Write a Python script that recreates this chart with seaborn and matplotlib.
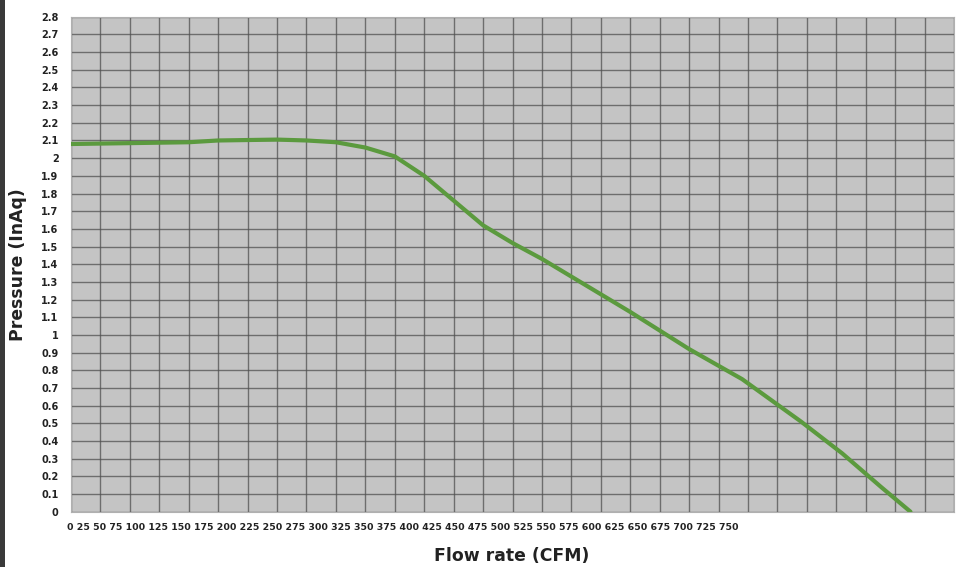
import matplotlib
matplotlib.use("Agg")
import matplotlib.pyplot as plt
import seaborn as sns
import pandas as pd
from matplotlib.patches import Rectangle

# fan curve
flow_cfm = [0, 50, 100, 125, 175, 200, 225, 250, 275, 300, 325, 350, 375,
            400, 425, 475, 525, 570, 620, 655, 688, 713]
pressure_inaq = [2.08, 2.085, 2.09, 2.10, 2.105, 2.10, 2.09, 2.06, 2.01, 1.90,
                 1.76, 1.62, 1.52, 1.43, 1.33, 1.13, 0.92, 0.75, 0.51, 0.33,
                 0.14, 0.0]

x_tick_labels = ["0", "25", "50", "75", "100", "125", "150", "175", "200",
                 "225", "250", "275", "300", "325", "350", "375", "400", "425",
                 "450", "475", "500", "525", "550", "575", "600", "625", "650",
                 "675", "700", "725", "750"]
y_ticks = [round(i * 0.1, 1) for i in range(29)]

df = pd.DataFrame({"flow": flow_cfm, "pressure": pressure_inaq})

sns.set_style("whitegrid", {"axes.facecolor": "#c4c4c4",
                            "grid.color": "#505050",
                            "axes.edgecolor": "#b0b0b0"})
plt.rcParams["font.family"] = ["DejaVu Sans"]

fig = plt.figure(figsize=(9.57, 5.67), dpi=100)
ax = fig.add_axes([0.0742, 0.0975, 0.9227, 0.873])

sns.lineplot(data=df, x="flow", y="pressure", ax=ax, color="#5b9a3e",
             linewidth=3.0, solid_capstyle="round", zorder=3)

ax.set_xlim(0, 750)
ax.set_ylim(0, 2.8)
ax.set_xticks(range(0, 751, 25))
ax.set_xticklabels([])
ax.set_yticks(y_ticks)
ax.set_yticklabels([f"{v:g}" for v in y_ticks], fontsize=7, fontweight="bold",
                   color="#222222")
ax.tick_params(axis="y", length=0, pad=9)
ax.tick_params(axis="x", length=0)
ax.grid(True, linewidth=1.0, color="#505050", alpha=0.75)
for s in ax.spines.values():
    s.set_linewidth(0.8)

# x tick labels squeezed together at the left, as in the source picture
ax.text(-0.004, -0.032, " ".join(x_tick_labels), transform=ax.transAxes,
        ha="left", va="center", fontsize=6.75, fontweight="bold", color="#222222")

ax.set_xlabel("")
ax.set_ylabel("")
fig.text(0.535, 0.02, "Flow rate (CFM)", ha="center", va="center",
         fontsize=12.4, fontweight="bold", color="#222222")
fig.text(0.019, 0.533, "Pressure (InAq)", ha="center", va="center",
         rotation=90, fontsize=12.4, fontweight="bold", color="#222222")

# dark strip along the left edge
fig.patches.append(Rectangle((0, 0), 0.005, 1, transform=fig.transFigure,
                             facecolor="#3a3a3a", edgecolor="none"))

fig.savefig("out.png", dpi=100)
